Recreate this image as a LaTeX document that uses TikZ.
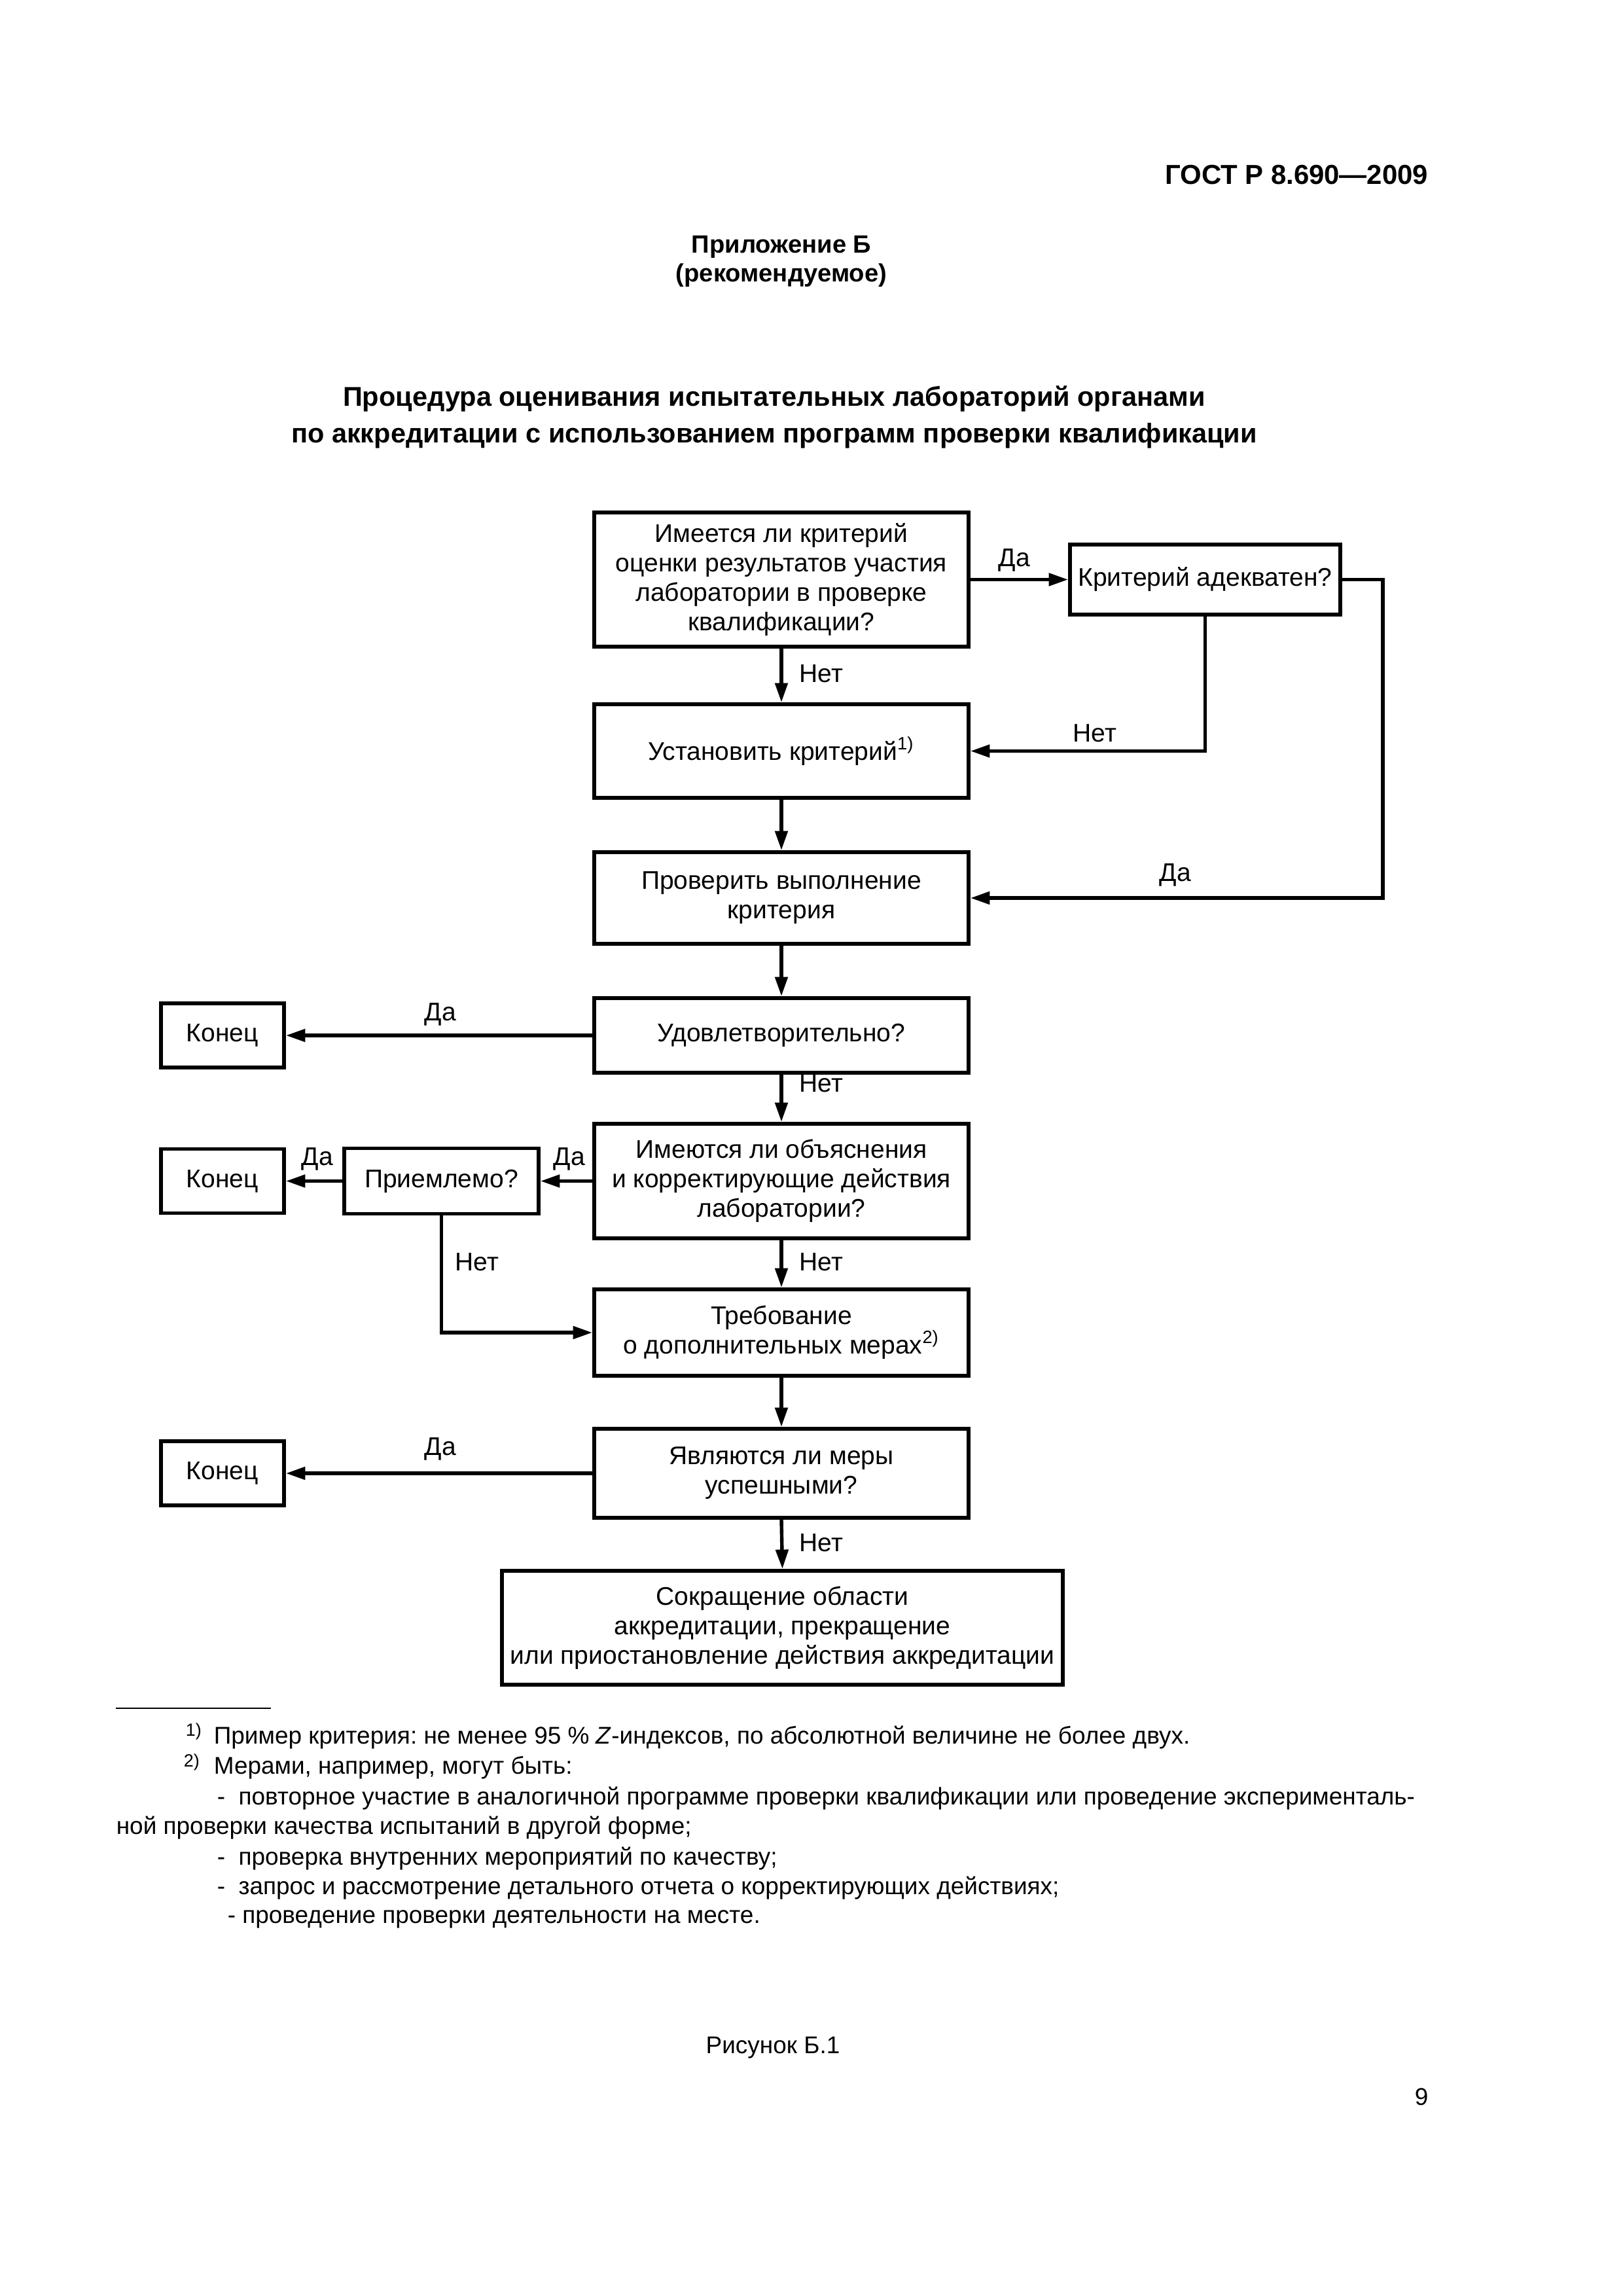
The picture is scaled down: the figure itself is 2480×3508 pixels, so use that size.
\documentclass[tikz,border=0pt]{standalone}
\usepackage{fontspec}
\setmainfont{Liberation Sans}
\usetikzlibrary{arrows.meta}
\newcommand\pxu{0.08467mm}
\frenchspacing
\begin{document}
\frenchspacing
\begin{tikzpicture}[x=0.08467mm,y=-0.08467mm,
  box/.style={draw, line width=1.4pt, align=center, inner sep=0pt,
    font=\fontsize{9.4}{10.8}\selectfont},
  con/.style={line width=1.3pt, -{Triangle[length=2.5mm,width=1.6mm]}},
  lbl/.style={font=\fontsize{9.4}{10.8}\selectfont, inner sep=0pt},
  ftxt/.style={font=\fontsize{8.9}{11}\selectfont, anchor=mid west, inner sep=0pt},
  fsup/.style={font=\fontsize{6.5}{8}\selectfont, anchor=base west, inner sep=0pt},
  head/.style={font=\fontsize{10}{12}\selectfont\bfseries, inner sep=0pt}]
\useasboundingbox[fill=white] (0,0) rectangle (2480,3508);

% header
\node[head, font=\fontsize{10.1}{12}\selectfont\bfseries, anchor=mid east] (hdr) at (2183,271) {ГОСТ Р 8.690—2009};
\node[head, font=\fontsize{9.2}{12}\selectfont\bfseries, anchor=mid] (app) at (1194,376) {Приложение Б};
\node[head, font=\fontsize{9.2}{12}\selectfont\bfseries, anchor=mid] (rec) at (1194,420) {(рекомендуемое)};
\node[head, anchor=mid] (t1) at (1183,610) {Процедура оценивания испытательных лабораторий органами};
\node[head, anchor=mid] (t2) at (1183,666) {по аккредитации с использованием программ проверки квалификации};

% boxes
\node[box, minimum width=572*\pxu, minimum height=205*\pxu] (q1) at (1194,885.5)
  {Имеется ли критерий\\оценки результатов участия\\лаборатории в проверке\\квалификации?};
\node[box, minimum width=413*\pxu, minimum height=107*\pxu] (q2) at (1841.5,885.5)
  {Критерий адекватен?};
\node[box, minimum width=572*\pxu, minimum height=143*\pxu] (s1) at (1194,1147.5)
  {Установить критерий\textsuperscript{1)}};
\node[box, minimum width=572*\pxu, minimum height=140*\pxu] (s2) at (1194,1372)
  {Проверить выполнение\\критерия};
\node[box, minimum width=572*\pxu, minimum height=114*\pxu] (q3) at (1194,1582)
  {Удовлетворительно?};
\node[box, minimum width=572*\pxu, minimum height=175*\pxu] (q4) at (1194,1804.5)
  {Имеются ли объяснения\\и корректирующие действия\\лаборатории?};
\node[box, minimum width=572*\pxu, minimum height=132*\pxu] (s3) at (1194,2036)
  {Требование\\о дополнительных мерах\textsuperscript{2)}};
\node[box, minimum width=572*\pxu, minimum height=136*\pxu] (q5) at (1194,2251)
  {Являются ли меры\\успешными?};
\node[box, minimum width=857*\pxu, minimum height=174*\pxu] (s4) at (1195.5,2487)
  {Сокращение области\\аккредитации, прекращение\\или приостановление действия аккредитации};
\node[box, minimum width=188*\pxu, minimum height=98*\pxu] (e1) at (340,1582) {Конец};
\node[box, minimum width=188*\pxu, minimum height=98*\pxu] (e2) at (340,1804.5) {Конец};
\node[box, minimum width=188*\pxu, minimum height=98*\pxu] (e3) at (340,2251) {Конец};
\node[box, minimum width=297*\pxu, minimum height=100*\pxu] (q6) at (674.5,1804.5) {Приемлемо?};

% connectors
\coordinate (r1) at (2113,885.5);
\draw[con] (q1.east) -- (q2.west);
\draw[con] (q1.south) -- (s1.north);
\draw[con] (q2.south) |- (s1.east);
\draw[con] (q2.east) -- (r1) |- (s2.east);
\draw[con] (s1.south) -- (s2.north);
\draw[con] (s2.south) -- (q3.north);
\draw[con] (q3.west) -- (e1.east);
\draw[con] (q3.south) -- (q4.north);
\draw[con] (q4.west) -- (q6.east);
\draw[con] (q6.west) -- (e2.east);
\draw[con] (q6.south) |- (s3.west);
\draw[con] (q4.south) -- (s3.north);
\draw[con] (s3.south) -- (q5.north);
\draw[con] (q5.west) -- (e3.east);
\draw[con] (q5.south) -- (s4.north);

% labels
\node[lbl] (l1) at (1550,856) {Да};
\node[lbl] (l2) at (1255,1029) {Нет};
\node[lbl] (l3) at (1673,1120) {Нет};
\node[lbl] (l4) at (1796,1337) {Да};
\node[lbl] (l5) at (673,1550) {Да};
\node[lbl] (l6) at (1255,1655) {Нет};
\node[lbl] (l7) at (870,1771) {Да};
\node[lbl] (l8) at (485,1771) {Да};
\node[lbl] (l9) at (729,1928) {Нет};
\node[lbl] (l10) at (1255,1928) {Нет};
\node[lbl] (l11) at (673,2214) {Да};
\node[lbl] (l12) at (1255,2357) {Нет};

% footnotes
\draw[line width=0.6pt] (177,2610) -- (414,2610);
\node[fsup] (f1s) at (283,2652) {1)};
\node[ftxt] (f1) at (326,2654) {Пример критерия: не менее 95 \% \textit{Z}-индексов, по абсолютной величине не более двух.};
\node[fsup] (f2s) at (280,2699) {2)};
\node[ftxt] (f2) at (326,2699) {Мерами, например, могут быть:};
\node[ftxt] (f3) at (331,2746) {-\ \ повторное участие в аналогичной программе проверки квалификации или проведение эксперименталь-};
\node[ftxt] (f4) at (177,2791) {ной проверки качества испытаний в другой форме;};
\node[ftxt] (f5) at (331,2838) {-\ \ проверка внутренних мероприятий по качеству;};
\node[ftxt] (f6) at (331,2883) {-\ \ запрос и рассмотрение детального отчета о корректирующих действиях;};
\node[ftxt] (f7) at (347,2927) {- проведение проверки деятельности на месте.};

\node[ftxt, anchor=mid] (fig) at (1181,3126) {Рисунок Б.1};
\node[ftxt, anchor=mid] (pg) at (2172,3205) {9};
\end{tikzpicture}
\end{document}
